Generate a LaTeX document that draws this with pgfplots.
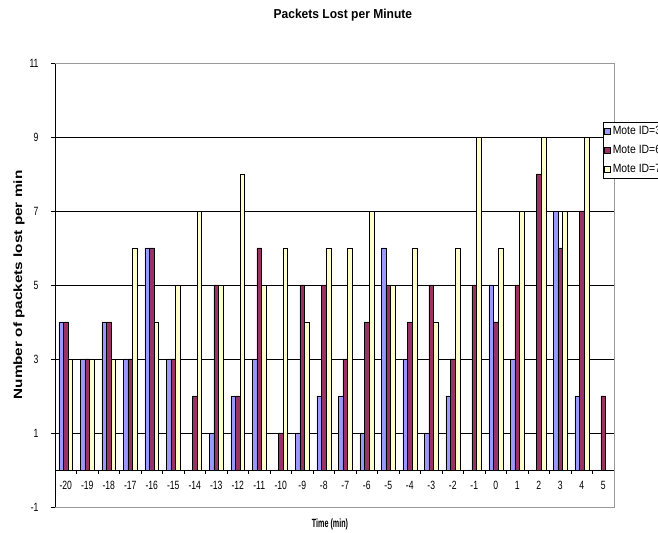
\documentclass[border=0pt]{standalone}
\usepackage{pgfplots}
\pgfplotsset{compat=1.18}
\usepackage{pgfplotstable}
\usepackage{fontspec}
\setmainfont{Liberation Sans}
% condensed / stretched cuts of the same face for the different labels
\newfontfamily\tickfont[FakeStretch=0.72]{Liberation Sans}
\newfontfamily\legfont[FakeStretch=0.87]{Liberation Sans}
\newfontfamily\titlefont[FakeStretch=0.93]{Liberation Sans}
\newfontfamily\xlabfont[FakeStretch=0.6]{Liberation Sans}
\newfontfamily\ylabfont[FakeStretch=1.28]{Liberation Sans}

\definecolor{moteA}{HTML}{9999FF}
\definecolor{moteB}{HTML}{993366}
\definecolor{moteC}{HTML}{FFFFCC}
\definecolor{frame}{HTML}{999999}

% packets lost per minute, minute -20 ... 5 stored as index 0 ... 25
\pgfplotstableread{
idx m3 m6 m7
0  4 4 3
1  3 3 3
2  4 4 3
3  3 3 6
4  6 6 4
5  3 3 5
6  0 2 7
7  1 5 5
8  2 2 8
9  3 6 5
10 0 1 6
11 1 5 4
12 2 5 6
13 2 3 6
14 1 4 7
15 6 5 5
16 3 4 6
17 1 5 4
18 2 3 6
19 0 5 9
20 5 4 6
21 3 5 7
22 0 8 9
23 7 6 7
24 2 7 9
25 0 2 0
}\lossdata

\begin{document}
\begin{tikzpicture}
\useasboundingbox (0,0) rectangle (658bp,533bp);
\clip (0,0) rectangle (658bp,533bp);
\begin{axis}[
  at={(55bp,26bp)}, anchor=south west,
  scale only axis, width=559bp, height=444bp,
  clip=false,
  ybar, bar width=0.217,
  xmin=-0.5, xmax=25.5, ymin=-1, ymax=11,
  axis x line*=middle, axis y line*=left,
  hide obscured x ticks=false,
  x axis line style={-, black, line width=0.6bp},
  y axis line style={-, black, line width=0.6bp},
  xtick={-0.5,0.5,...,25.5},
  x tick label as interval,
  xticklabels={-20,-19,-18,-17,-16,-15,-14,-13,-12,-11,-10,-9,-8,-7,-6,-5,-4,-3,-2,-1,0,1,2,3,4,5},
  ytick={1,3,5,7,9},
  extra y ticks={-1,11},
  extra y tick style={grid=none},
  tick align=outside,
  major tick length=4bp,
  tick style={black, line width=0.6bp},
  ymajorgrids,
  grid style={black, line width=0.6bp},
  /pgf/number format/assume math mode=true,
  tick label style={font=\tickfont\fontsize{12}{12}\selectfont},
  xticklabel style={yshift=-4bp},
  yticklabel style={xshift=-9bp},
  legend style={at={(axis description cs:0.9803,0.867)}, anchor=north west,
    draw=black, line width=0.6bp, fill=white,
    font=\legfont\fontsize{12}{12}\selectfont,
    inner xsep=1bp, inner ysep=2bp, row sep=5bp,
    nodes={inner sep=2bp, text height=8bp, text depth=2bp}},
  legend cell align=left,
  legend image code/.code={\draw[#1, line width=0.5bp] (0bp,-3bp) rectangle (6bp,3bp);},
]
\addplot[fill=moteA, draw=black, line width=0.5bp, bar shift=-0.217] table[x=idx, y=m3]{\lossdata};
\addplot[fill=moteB, draw=black, line width=0.5bp, bar shift=0] table[x=idx, y=m6]{\lossdata};
\addplot[fill=moteC, draw=black, line width=0.5bp, bar shift=0.217] table[x=idx, y=m7]{\lossdata};
\legend{Mote ID=3, Mote ID=6, Mote ID=7}
\draw[frame, line width=0.6bp] (rel axis cs:0,0) -- (rel axis cs:1,0) -- (rel axis cs:1,1) -- (rel axis cs:0,1);
\node[font=\titlefont\bfseries\fontsize{13}{13}\selectfont] at (axis description cs:0.515,1.108) {Packets Lost per Minute};
\node[font=\xlabfont\bfseries\fontsize{12}{12}\selectfont] at (axis description cs:0.492,-0.0383) {Time (min)};
\node[rotate=90, font=\ylabfont\bfseries\fontsize{12}{12}\selectfont] at (axis description cs:-0.0644,0.5) {Number of packets lost per min};
\end{axis}
\end{tikzpicture}
\end{document}
